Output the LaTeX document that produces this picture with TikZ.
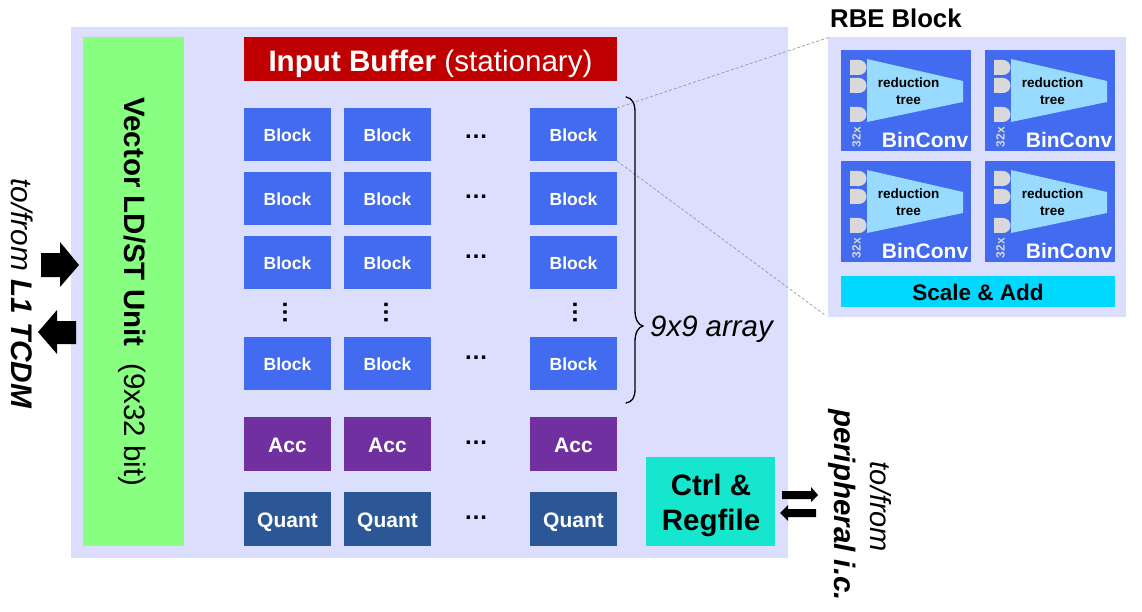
\documentclass[tikz,border=0pt]{standalone}
\usepackage{fontspec}
\setmainfont{Liberation Sans}
\definecolor{panelbg}{HTML}{DBDFFD}
\definecolor{lsgreen}{HTML}{88FF80}
\definecolor{bufred}{HTML}{C00000}
\definecolor{blockblue}{HTML}{426BEF}
\definecolor{accpurple}{HTML}{7030A0}
\definecolor{quantblue}{HTML}{2B5797}
\definecolor{ctrlteal}{HTML}{15E6CD}
\definecolor{treeblue}{HTML}{99DBFF}
\definecolor{scalecyan}{HTML}{00D8FF}
\definecolor{gategray}{HTML}{D9D9D9}
\newcommand{\lowertext}[2]{\raisebox{-#1}[\height][\depth]{#2}}
\tikzset{
  x=1pt,y=-1pt,
  boxnode/.style={anchor=north west,inner sep=0pt,outer sep=0pt,align=center},
  cell/.style={boxnode,minimum width=87pt,minimum height=53pt,text=white,font=\bfseries\fontsize{17.5}{20}\selectfont},
  blockcell/.style={cell,fill=blockblue},
  acccell/.style={cell,fill=accpurple,minimum height=54pt,font=\bfseries\fontsize{21}{24}\selectfont},
  quantcell/.style={cell,fill=quantblue,minimum height=54pt,font=\bfseries\fontsize{21}{24}\selectfont},
  binbox/.style={boxnode,fill=blockblue,minimum width=130pt,minimum height=101pt},
  dotsnode/.style={inner sep=0pt,font=\fontsize{24}{26}\selectfont},
  zoomline/.style={draw=black!40,dash pattern=on 3pt off 2pt,line width=0.7pt},
  gate/.style={fill=gategray},
  blockarrow/.style={fill=black},
}
\newcommand{\gateat}[2]{\fill[gate] (#1,#2) -- ++(9,0) arc[start angle=-90,end angle=90,radius=7.5] -- ++(-9,0) -- cycle;}
\newcommand{\binconv}[3]{%
  \node[binbox] (#3) at (#1,#2) {};
  \fill[treeblue] (#1+26,#2+9) -- (#1+122,#2+31) -- (#1+122,#2+52) -- (#1+26,#2+72) -- cycle;
  \gateat{#1+9}{#2+10}
  \gateat{#1+9}{#2+28}
  \gateat{#1+9}{#2+57}
  \node[inner sep=0pt,align=center,font=\bfseries\fontsize{13.5}{17}\selectfont] (#3t) at (#1+67.5,#2+41) {reduction\\tree};
  \node[inner sep=0pt,rotate=90,text=gategray,font=\bfseries\fontsize{12}{14}\selectfont] (#3n) at (#1+15.5,#2+87) {32x};
  \node[inner sep=0pt,text=white,font=\bfseries\fontsize{21}{24}\selectfont] (#3l) at (#1+84,#2+90) {BinConv};
}
\begin{document}
\begin{tikzpicture}
\useasboundingbox (0,0) rectangle (1142,612);
\fill[white] (0,0) rectangle (1142,612);
% main panel
\node[boxnode,fill=panelbg,minimum width=717pt,minimum height=531pt] (main) at (71,27) {};
\node[boxnode,fill=lsgreen,minimum width=101pt,minimum height=509pt] (ls) at (83,37) {};
\node[inner sep=0pt,rotate=-90,font=\fontsize{29.5}{34}\selectfont] (lstext) at (132,292) {\textbf{Vector LD/ST Unit}\hspace{17pt}(9x32 bit)};
\node[boxnode,fill=bufred,minimum width=373pt,minimum height=44pt,text=white,font=\fontsize{29.6}{34}\selectfont] (buf) at (244,37) {\lowertext{5pt}{\textbf{Input Buffer} (stationary)}};
% RBE panel
\node[boxnode,fill=panelbg,minimum width=298pt,minimum height=280pt] (rbe) at (828,37) {};
\node[anchor=west,inner sep=0pt,font=\bfseries\fontsize{25.7}{30}\selectfont] (rbetitle) at (830,18) {RBE Block};
% array
\foreach \c/\x in {1/244,2/344,3/530}{
  \foreach \r/\y in {1/108,2/172,3/236,4/337}{
    \node[blockcell] (b\c\r) at (\x,\y) {\lowertext{1pt}{Block}};
  }
  \node[acccell] (a\c) at (\x,417) {\lowertext{1pt}{Acc}};
  \node[quantcell] (q\c) at (\x,492) {\lowertext{3pt}{Quant}};
}
\foreach \y [count=\i] in {136.5,197,257,358,443,518}{
  \node[dotsnode] (hd\i) at (476,\y) {\textbf{…}};
}
\foreach \x [count=\i] in {285,386,575}{
  \node[dotsnode,rotate=90] (vd\i) at (\x,312) {\textbf{…}};
}
% zoom lines
\coordinate (zoomtop) at (830,37);
\coordinate (zoomlow) at (825,315);
\draw[zoomline] (b31.north east) -- (zoomtop);
\draw[zoomline] (b31.south east) -- (zoomlow);
% brace
\coordinate (bracetop) at (626,97);
\coordinate (bracebot) at (626,403);
\draw[line width=1.3pt,line cap=round] (bracetop) .. controls (632,98) and (635,103) .. (635,112)
  -- (635,310) .. controls (635,319) and (638,325) .. (643,326)
  .. controls (638,327) and (635,333) .. (635,342)
  -- (635,389) .. controls (635,398) and (632,402) .. (bracebot);
\node[anchor=west,inner sep=0pt,font=\itshape\fontsize{29.4}{34}\selectfont] (arr) at (650,329) {9x9 array};
% ctrl
\node[boxnode,fill=ctrlteal,minimum width=129pt,minimum height=89pt] (ctrl) at (646,457) {};
\node[inner sep=0pt,align=center,font=\bfseries\fontsize{29.5}{35}\selectfont] (ctrltext) at (711,505.5) {Ctrl \&\\Regfile};
% RBE contents
\binconv{841}{50}{bca}
\binconv{985}{50}{bcb}
\binconv{841}{161}{bcc}
\binconv{985}{161}{bcd}
\node[boxnode,fill=scalecyan,minimum width=274pt,minimum height=31pt,font=\bfseries\fontsize{22.5}{26}\selectfont] (scale) at (841,276) {\lowertext{1pt}{Scale \& Add}};
% block arrows
\fill[blockarrow] (41,253) -- (60,253) -- (60,242) -- (79,265) -- (60,287) -- (60,277) -- (41,277) -- cycle;
\fill[blockarrow] (76,321) -- (57,321) -- (57,310) -- (38,332) -- (57,354) -- (57,344) -- (76,344) -- cycle;
\fill[blockarrow] (782,491) -- (811,491) -- (811,487) -- (818,495) -- (811,502) -- (811,499) -- (782,499) -- cycle;
\fill[blockarrow] (816,509) -- (788,509) -- (788,505) -- (780,513) -- (788,521) -- (788,517) -- (816,517) -- cycle;
% outside labels
\node[anchor=west,inner sep=0pt,rotate=-90,font=\fontsize{29.8}{34}\selectfont\itshape] (l1) at (22,178) {to/from \textbf{L1 TCDM}};
\node[inner sep=0pt,rotate=-90,font=\fontsize{29.5}{34}\selectfont\itshape\bfseries] (per) at (842,505) {peripheral i.c.};
\node[inner sep=0pt,rotate=-90,font=\fontsize{29}{34}\selectfont\itshape] (per2) at (881,507) {to/from};
\end{tikzpicture}
\end{document}
